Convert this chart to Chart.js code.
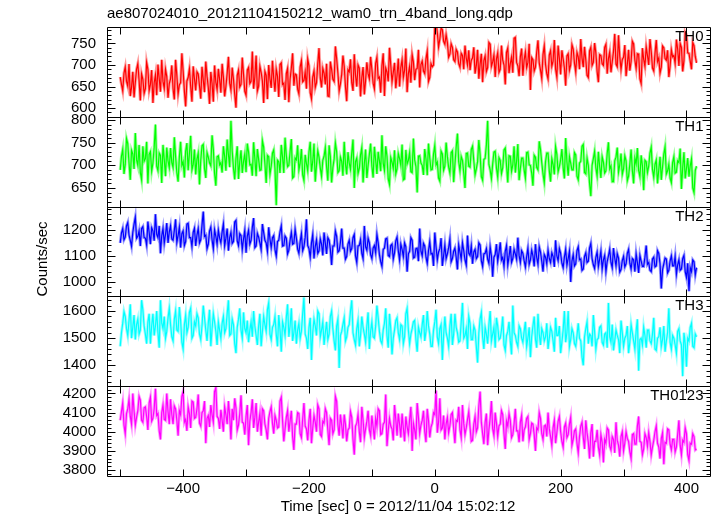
<!DOCTYPE html>
<html>
<head>
<meta charset="utf-8">
<title>ae807024010 WAM light curve</title>
<script src="https://cdn.jsdelivr.net/npm/chart.js@4.4.1/dist/chart.umd.min.js"></script>
<style>
  html, body { margin: 0; padding: 0; background: #fff; }
  #wam-canvas { display: block; }
</style>
</head>
<body>
<canvas id="wam-canvas" width="717" height="516"></canvas>
<script>
// Bins: start time and width in sec (0 = 2012/11/04 15:02:12)
const binStart = -500;
const binWidth = 2;

// Count rates (counts/sec) per 2 s bin
const th0 = [
  672,655,640,681,695,662,651,702,628,648,684,625,660,690,703,664,618,679,667,634,
  645,706,690,641,655,688,612,659,677,630,701,668,638,712,662,646,690,673,624,657,
  668,699,645,620,712,676,633,654,659,727,686,640,604,663,671,691,650,615,697,668,
  641,684,679,652,622,696,665,637,708,674,648,610,684,657,615,699,660,643,691,666,
  636,703,672,627,650,681,719,658,642,694,667,632,601,676,688,649,655,717,678,639,
  630,688,694,657,662,731,645,672,722,640,651,697,683,663,612,685,676,621,700,668,
  647,710,669,638,690,674,626,701,705,655,658,619,680,692,614,667,693,727,652,679,
  677,644,633,695,710,661,664,684,645,714,698,636,622,672,686,648,659,703,739,670,
  648,692,681,655,703,628,627,708,690,667,662,743,715,681,640,656,678,722,697,650,
  616,689,684,713,659,640,725,676,650,700,693,627,671,695,632,664,706,680,668,719,
  690,658,645,704,718,669,672,636,699,727,628,693,684,662,740,700,661,683,705,646,
  676,715,650,694,712,671,688,738,637,680,697,659,724,707,665,690,692,735,648,701,
  709,686,680,714,732,662,671,703,696,700,
  790,800,775,742,760,785,782,755,748,770,
  752,718,725,749,741,712,708,736,730,703,695,727,722,690,745,716,700,734,688,711,
  716,741,680,699,735,668,702,726,660,710,721,685,694,752,748,697,707,723,672,714,
  728,683,690,745,711,700,655,729,739,681,703,718,682,762,764,706,698,674,719,738,
  675,712,730,694,706,749,642,717,712,686,695,730,757,705,688,669,724,744,701,680,
  668,723,733,697,709,758,690,672,745,715,678,734,714,693,652,721,726,688,700,747,
  737,704,684,729,719,690,760,716,695,742,712,676,671,733,741,699,706,751,728,685,
  660,724,722,703,699,741,748,680,715,730,683,707,731,772,702,696,769,720,690,713,
  718,746,674,702,735,687,708,755,749,711,692,726,725,668,657,739,713,697,742,722,
  700,760,731,693,686,727,758,708,716,681,695,744,740,715,711,734,672,698,735,719,
  722,703,759,737,698,750,741,685,710,776,770,728,727,709,690,752,745,720,705
];
const th1 = [
  690,720,735,681,702,759,748,706,668,733,725,692,771,712,700,745,684,668,742,709,
  715,752,660,724,730,687,705,740,790,698,688,727,722,661,745,713,676,739,710,695,
  738,706,695,762,720,684,664,718,752,700,708,673,731,749,689,726,765,690,702,735,
  680,714,727,658,711,743,746,693,672,728,718,705,699,766,735,682,655,719,721,701,
  706,684,742,720,688,757,724,696,798,731,694,669,716,742,670,708,733,683,709,725,
  685,748,729,701,702,677,751,715,676,736,713,689,690,754,740,703,661,722,719,680,
  698,727,734,692,612,711,708,683,745,718,683,761,722,697,700,730,758,672,675,716,
  712,744,690,705,736,679,667,723,704,688,729,752,686,708,748,664,701,732,718,694,
  676,711,720,739,697,666,744,720,662,695,714,749,730,684,688,718,709,677,752,703,
  680,729,705,691,727,757,650,708,716,682,693,723,739,662,704,735,672,700,724,748,
  698,673,741,712,681,730,710,687,766,705,689,742,720,670,658,717,707,693,733,681,
  692,726,715,700,746,668,670,734,703,711,728,686,684,759,712,697,640,720,721,705,
  700,679,736,714,678,748,716,690,691,725,744,701,707,672,665,731,725,689,698,750,
  719,696,683,728,732,663,702,740,770,708,688,719,711,683,650,726,727,698,696,735,
  742,710,679,692,708,756,724,675,667,713,715,745,798,702,690,671,703,729,731,694,
  674,717,711,682,695,734,738,700,662,721,720,687,701,742,684,709,747,667,693,716,
  716,690,672,728,729,701,700,683,655,722,718,695,690,753,735,706,681,662,708,727,
  727,688,664,715,702,680,741,724,686,697,712,736,695,671,760,708,677,719,705,690,
  690,728,723,676,668,705,709,742,746,684,681,716,700,660,632,700,715,731,694,676,
  730,698,672,719,707,683,688,726,751,692,699,664,664,710,718,739,685,701,726,680,
  692,721,710,666,676,703,735,689,660,716,703,738,688,675,722,699,645,711,708,684,
  698,727,740,691,674,702,712,660,690,719,668,697,725,741,681,688,702,672,662,706,
  719,683,685,710,706,737,648,695,729,671,693,716,675,699,714,650,640,689,698
];
const th2 = [
  1150,1188,1205,1162,1172,1215,1228,1180,1160,1137,1190,1222,1248,1168,1175,1196,1138,1205,1212,1170,
  1168,1142,1232,1190,1145,1208,1196,1158,1260,1183,1170,1215,1110,1177,1205,1149,1182,1226,1150,1192,
  1215,1165,1160,1198,1240,1152,1178,1210,1132,1185,1196,1140,1155,1222,1225,1170,1170,1136,1190,1206,
  1138,1180,1205,1150,1162,1218,1270,1175,1180,1128,1145,1195,1210,1162,1128,1200,1175,1145,1198,1168,
  1150,1192,1222,1139,1168,1205,1120,1170,1190,1148,1155,1230,1236,1158,1140,1185,1178,1125,1165,1198,
  1112,1176,1198,1145,1160,1210,1245,1132,1138,1186,1172,1150,1125,1222,1190,1160,1150,1118,1210,1165,
  1132,1170,1178,1124,1100,1155,1160,1192,1215,1138,1140,1176,1168,1108,1122,1160,1190,1145,1148,1202,
  1168,1126,1110,1154,1185,1120,1135,1172,1240,1140,1128,1095,1150,1182,1090,1136,1162,1110,1120,1165,
  1145,1102,1190,1148,1108,1170,1160,1125,1065,1138,1138,1195,1175,1115,1120,1152,1205,1130,1130,1088,
  1098,1145,1160,1118,1128,1170,1182,1100,1075,1138,1140,1162,1110,1090,1215,1135,1122,1168,1150,1105,
  1090,1130,1140,1112,1182,1150,1105,1078,1060,1125,1130,1165,1168,1102,1098,1140,1145,1088,1112,1158,
  1172,1120,1085,1145,1125,1098,1150,1135,1040,1108,1118,1170,1160,1092,1095,1128,1130,1080,1205,1118,
  1100,1148,1138,1095,1072,1120,1155,1108,1110,1062,1190,1135,1085,1115,1128,1168,1062,1100,1142,1090,
  1108,1132,1165,1078,1090,1118,1130,1095,1048,1142,1115,1088,1150,1120,1085,1065,1178,1110,1102,1138,
  1070,1115,1125,1090,1098,1150,1142,1082,1060,1108,1110,1128,1088,1072,1135,1100,1020,1095,1105,1145,
  1080,1112,1152,1085,1095,1060,1118,1140,1065,1098,1138,1076,1090,1125,1108,1088,1170,1102,1075,1120,
  1110,1082,1058,1098,1130,1068,1085,1122,1100,1060,1145,1094,1068,1135,1115,1080,1040,1105,1095,1070,
  1122,1090,1075,1112,1098,1058,1160,1100,1082,1128,1110,1072,1055,1096,1125,1065,1090,1118,1000,1080,
  1105,1062,1070,1120,1135,1085,1088,1045,1050,1098,1112,1075,1080,1130,1148,1090,1066,1052,1095,1115,
  1060,1088,1118,1050,1085,1102,1040,1078,1100,1125,1075,1055,1130,1092,1062,1108,1092,1038,1048,1082,
  1098,1058,1070,1110,1125,1072,1050,1090,1085,1040,1108,1075,1035,1102,1080,1060,1060,1095,1140,1068,
  1075,1045,1040,1088,1095,1058,1062,1120,1110,1070,975,1048,1070,1092,1088,1035,1045,1080,1100,1062,
  1062,1098,1030,1066,1085,1045,1050,1090,1102,1040,1018,1072,965,1055,1040,1085,1078,1028,1055
];
const th3 = [
  1470,1520,1555,1598,1580,1535,1510,1565,1625,1500,1540,1585,1495,1550,1570,1515,1530,1640,1605,1545,
  1515,1480,1560,1590,1480,1545,1590,1510,1545,1600,1520,1465,1640,1555,1535,1580,1500,1525,1575,1610,
  1550,1505,1490,1570,1600,1530,1525,1615,1565,1485,1460,1550,1585,1520,1540,1595,1610,1500,1510,1560,
  1545,1590,1575,1515,1495,1545,1620,1575,1530,1490,1555,1605,1470,1535,1590,1560,1525,1475,1560,1530,
  1500,1555,1580,1520,1535,1590,1640,1510,1515,1570,1550,1480,1445,1540,1570,1610,1530,1500,1595,1535,
  1520,1565,1485,1530,1560,1505,1600,1545,1510,1475,1545,1590,1470,1525,1580,1550,1525,1605,1630,1515,
  1495,1540,1550,1580,1515,1470,1585,1530,1450,1560,1540,1510,1575,1625,1505,1545,1610,1490,1520,1565,
  1480,1530,1555,1500,1525,1590,1650,1515,1500,1460,1540,1575,1420,1520,1570,1545,1510,1600,1590,1505,
  1530,1560,1475,1520,1560,1495,1515,1580,1600,1535,1490,1455,1545,1570,1390,1510,1525,1550,1575,1490,
  1505,1540,1550,1600,1640,1520,1495,1475,1535,1565,1470,1510,1580,1540,1515,1485,1545,1595,1460,1525,
  1560,1505,1500,1545,1620,1575,1525,1490,1480,1530,1555,1610,1510,1465,1590,1535,1440,1500,1530,1565,
  1575,1520,1495,1550,1545,1480,1505,1590,1610,1530,1480,1515,1535,1560,1565,1495,1450,1540,1520,1505,
  1550,1585,1490,1525,1600,1545,1515,1470,1470,1530,1560,1605,1505,1480,1535,1550,1420,1510,1580,1520,
  1500,1470,1545,1590,1475,1515,1590,1540,1520,1485,1490,1560,1630,1500,1510,1535,1460,1580,1555,1495,
  1495,1545,1530,1470,1410,1520,1570,1595,1505,1460,1540,1515,1480,1550,1600,1490,1515,1540,1465,1575,
  1545,1495,1500,1530,1580,1475,1455,1510,1525,1560,1490,1440,1620,1520,1510,1485,1470,1545,1535,1500,
  1485,1525,1560,1470,1500,1540,1430,1505,1545,1580,1495,1465,1590,1515,1475,1535,1520,1490,1505,1555,
  1460,1500,1540,1525,1490,1450,1575,1510,1510,1545,1445,1485,1530,1600,1485,1520,1600,1470,1495,1535,
  1520,1480,1470,1510,1555,1500,1490,1430,1400,1505,1535,1560,1480,1515,1510,1470,1585,1525,1460,1495,
  1500,1540,1545,1485,1475,1515,1520,1465,1630,1505,1485,1550,1455,1490,1530,1510,1495,1445,1565,1520,
  1470,1500,1510,1545,1445,1485,1550,1520,1490,1460,1525,1570,1380,1495,1500,1475,1540,1510,1465,1530,
  1530,1490,1480,1515,1575,1460,1455,1500,1505,1540,1470,1495,1545,1450,1490,1520,1610,1485,1460,1510,
  1500,1475,1445,1525,1535,1490,1475,1360,1520,1480,1395,1500,1490,1540,1555,1470,1465,1515,1505
];
const th0123 = [
  4060,4105,4150,4035,3990,4095,4120,4170,4080,4040,4200,4110,4035,4075,4110,4185,4165,4060,4050,4125,
  4130,4080,4010,4150,4180,4055,4070,4120,4225,4085,4095,4005,3960,4100,4140,4065,4060,4200,4105,4040,
  4170,4090,4040,4135,4120,4060,3980,4110,4090,4185,4210,4050,4065,4005,4130,4095,4020,4160,4155,4070,
  4075,4120,4195,4045,4030,4100,4110,4160,3940,4070,4085,4025,4140,4090,4050,4210,4230,4080,4070,4015,
  4115,4060,4000,4130,4090,4040,4160,4085,3960,4120,4060,4175,4125,4010,4035,4095,4190,4050,4045,3985,
  4080,4140,3930,4055,4100,4170,4020,4075,4150,4000,4050,4095,3980,4120,4110,4040,4010,3960,4070,4105,
  4130,4045,3990,4085,4060,4020,4025,4160,4180,4060,3950,4015,4075,4110,4000,4055,4110,3975,3905,4040,
  4040,4100,4095,3990,3970,4065,4150,4030,4015,3955,4060,4120,3940,4020,4085,4050,4000,4140,4120,3985,
  3975,4055,4045,4120,4100,4010,3930,4070,4060,3990,4010,4185,4160,4035,3980,4090,4035,3965,4090,4040,
  3950,4010,4020,4105,4075,3960,3880,4030,4045,4090,4000,3945,4130,4060,3970,4015,4055,4110,4010,3980,
  4085,4025,3960,4070,4030,4120,4110,3985,3990,4040,4050,4195,3925,4005,4070,4030,4015,3955,4140,4065,
  3980,4095,4040,3970,4095,4020,3950,4080,4025,3990,4065,4130,3900,4045,4010,3960,4150,4075,3990,4035,
  4060,4110,4000,3945,4120,4060,3970,4025,4045,4100,4090,4215,3995,4050,4175,4010,4020,4085,3960,4040,
  4075,3995,4030,4090,4100,4015,3940,4060,4055,4130,4010,3970,4140,4045,3985,4020,4065,4105,4025,3950,
  3955,4040,4080,4000,4020,4135,4210,4050,3990,3935,4050,4095,3930,4010,4070,4160,4015,3980,4100,4045,
  3975,4030,4040,4110,4090,3990,3910,4055,4030,4095,4060,3970,3985,4040,4120,4005,4005,3945,4050,4085,
  3950,4010,4025,4070,4080,3960,3990,4045,4040,3985,3900,4020,4010,4100,4070,3990,3960,4030,4035,3975,
  4100,4015,3975,3930,4020,4060,3940,3995,4055,4080,4000,3950,3920,4025,4045,3970,3985,4040,4075,3930,
  3960,4005,4015,3940,3890,3975,4030,4050,3970,3910,4060,3995,3945,3860,3995,4040,3870,3950,3950,4010,
  3920,3880,3985,3945,3840,3960,3940,4020,4010,3925,3905,3975,3960,3890,4050,3955,3930,3870,3975,4000,
  3900,3940,4000,3965,3950,3895,3860,3985,3990,3935,3935,4030,4080,3950,3945,3880,3910,3990,3970,3925,
  3995,3950,3880,3920,3955,4000,4030,3940,3920,3860,3965,3995,3830,3945,3940,4015,4010,3935,3905,3960,
  3960,3895,3920,3985,4060,3930,3880,3955,3945,4020,3990,3880,3850,3940,3935,3990,3975,3905,3910
];

const bands = [th0, th1, th2, th3, th0123];
const bandNames = ['TH0', 'TH1', 'TH2', 'TH3', 'TH0123'];
const bandColors = ['255,0,0', '0,255,0', '0,0,255', '0,255,255', '255,0,255'];

// Axis ranges and tick steps per panel
const yMin = [580, 609, 945, 1323, 3769];
const yMax = [788, 807, 1289, 1654, 4238];
const yMajor = [50, 50, 100, 100, 100];
const yMinor = [10, 10, 20, 20, 20];
const xRange = [-521, 439];
const xTickStep = 100;
const xLabelStep = 200;

const FONT = "'Liberation Sans', Arial, Helvetica, sans-serif";
Chart.defaults.font.family = FONT;
Chart.defaults.font.size = 15;
Chart.defaults.color = '#000';

// Frame, inward ticks, panel labels, axis titles (QDP look)
const qdpFrame = {
  id: 'qdpFrame',
  beforeDatasetDraw(chart, args) {
    // keep each band inside its own panel
    const { ctx, chartArea } = chart;
    const ys = args.meta.yScale;
    ctx.save();
    ctx.beginPath();
    ctx.rect(chartArea.left, ys.top, chartArea.right - chartArea.left, ys.bottom - ys.top);
    ctx.clip();
  },
  afterDatasetDraw(chart) {
    chart.ctx.restore();
  },
  afterDraw(chart) {
    const { ctx, chartArea } = chart;
    const xs = chart.scales.x;
    const left = Math.round(chartArea.left) + 0.5;
    const right = Math.round(chartArea.right) - 0.5;

    ctx.save();
    ctx.strokeStyle = '#000';
    ctx.lineWidth = 1;

    bandNames.forEach((name, b) => {
      const ys = chart.scales['y' + b];
      const top = Math.round(ys.top) + 0.5;
      const bottom = Math.round(ys.bottom) + 0.5;

      ctx.beginPath();
      ctx.rect(left, top, right - left, bottom - top);

      // y ticks, both sides
      ys.ticks.forEach(t => {
        const y = Math.round(ys.getPixelForValue(t.value)) + 0.5;
        if (y <= top + 1 || y >= bottom - 1) return;
        const len = t.value % yMajor[b] === 0 ? 8 : 4;
        ctx.moveTo(left, y); ctx.lineTo(left + len, y);
        ctx.moveTo(right, y); ctx.lineTo(right - len, y);
      });

      // x ticks, top and bottom of the panel
      xs.ticks.forEach(t => {
        const x = Math.round(xs.getPixelForValue(t.value)) + 0.5;
        ctx.moveTo(x, top); ctx.lineTo(x, top + 7);
        ctx.moveTo(x, bottom); ctx.lineTo(x, bottom - 7);
      });
      ctx.stroke();

      ctx.fillStyle = '#000';
      ctx.font = '15px ' + FONT;
      ctx.textAlign = 'right';
      ctx.textBaseline = 'top';
      ctx.fillText(name, right - 7, top + 2);
    });

    // title and axis titles
    ctx.font = '15px ' + FONT;
    ctx.textAlign = 'left';
    ctx.textBaseline = 'middle';
    ctx.fillText('ae807024010_20121104150212_wam0_trn_4band_long.qdp', left - 0.5, 14);

    ctx.textAlign = 'center';
    ctx.fillText('Time [sec] 0 = 2012/11/04 15:02:12', 398, 507);

    ctx.translate(43, 259);
    ctx.rotate(-Math.PI / 2);
    ctx.fillText('Counts/sec', 0, 0);
    ctx.restore();
  }
};

function buildDatasets() {
  const sets = [];
  bands.forEach((vals, b) => {
    const pts = vals.map((v, i) => ({ x: binStart + i * binWidth, y: v }));
    // main curve
    sets.push({
      label: bandNames[b],
      data: pts,
      yAxisID: 'y' + b,
      borderColor: `rgb(${bandColors[b]})`,
      borderWidth: 1.2,
      pointRadius: 0,
      tension: 0,
      order: 0
    });
    // lighter halo standing in for the error bars
    sets.push({
      label: bandNames[b] + ' err',
      data: pts,
      yAxisID: 'y' + b,
      borderColor: `rgba(${bandColors[b]},0.4)`,
      borderWidth: 3,
      pointRadius: 0,
      tension: 0,
      order: 1
    });
  });
  return sets;
}

function buildScales() {
  const scales = {
    x: {
      type: 'linear',
      min: xRange[0],
      max: xRange[1],
      grid: { display: false, drawTicks: false },
      border: { display: false },
      ticks: {
        stepSize: xTickStep,
        autoSkip: false,
        includeBounds: false,
        maxRotation: 0,
        padding: 4,
        callback: v => (v % xLabelStep === 0 ? (v < 0 ? '\u2212' + Math.abs(v) : String(v)) : '')
      },
      afterFit: s => { s.height = 40; }
    }
  };
  // stacked left axes: the last one added ends up on top
  for (let b = bands.length - 1; b >= 0; b--) {
    scales['y' + b] = {
      type: 'linear',
      position: 'left',
      stack: 'bands',
      stackWeight: 1,
      min: yMin[b],
      max: yMax[b],
      grid: { display: false, drawTicks: false },
      border: { display: false },
      ticks: {
        stepSize: yMinor[b],
        autoSkip: false,
        includeBounds: false,
        padding: 11,
        callback: v => (v % yMajor[b] === 0 ? String(v) : '')
      },
      afterFit: s => { s.width = 107; }
    };
  }
  return scales;
}

new Chart(document.getElementById('wam-canvas'), {
  type: 'line',
  data: { datasets: buildDatasets() },
  options: {
    responsive: false,
    animation: false,
    parsing: false,
    layout: { padding: { top: 27, right: 6, bottom: 0, left: 0 } },
    plugins: {
      legend: { display: false },
      tooltip: { enabled: false }
    },
    scales: buildScales()
  },
  plugins: [qdpFrame]
});
</script>
</body>
</html>
